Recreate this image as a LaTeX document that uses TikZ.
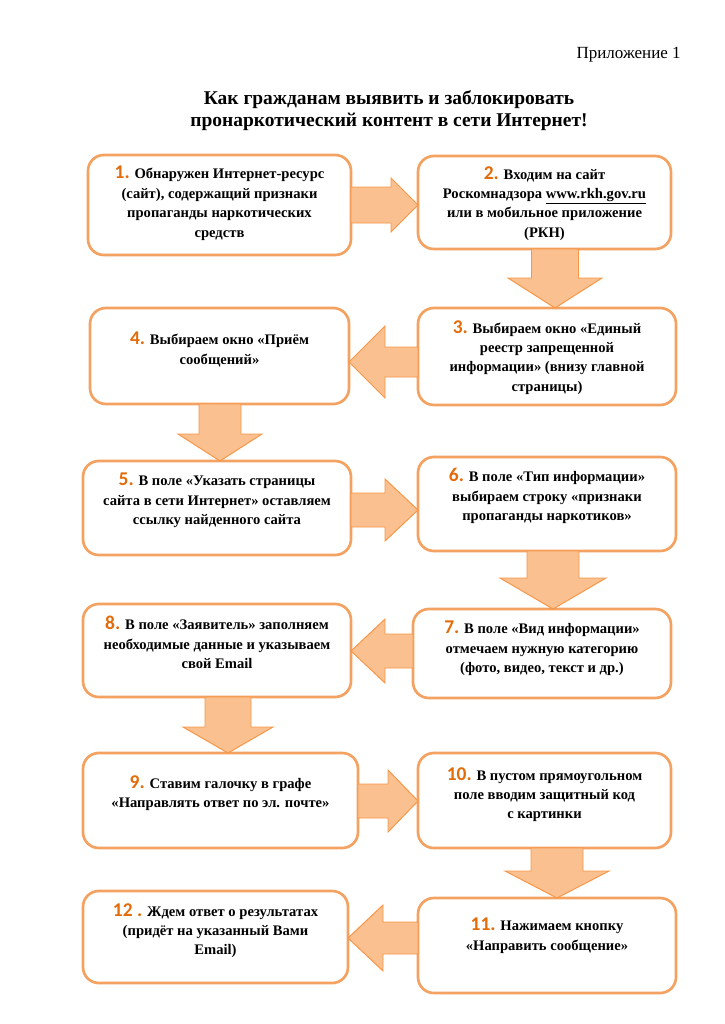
\documentclass[tikz,border=0pt]{standalone}
\usepackage{fontspec}
\setmainfont{Liberation Serif}
\newfontfamily\numfont{Carlito}
\usetikzlibrary{calc}
\definecolor{boxor}{HTML}{F4A261}
\definecolor{arrfill}{HTML}{FAC090}
\definecolor{arrline}{HTML}{F79646}
\definecolor{numor}{HTML}{E36C0A}
\def\pxu{0.8218pt}
\newcommand\nm[1]{{\numfont\fontsize{16}{16}\selectfont\color{numor}#1}}
\newcommand\bx[5]{\node[stepbox, minimum width={(#4-#2)*\pxu}, minimum height={(#5-#3)*\pxu}] (#1) at ({(#2+#4)/2},{(#3+#5)/2}) {};}
\newcommand\harr[6]{\path[blockarrow] let \p1=(#1), \p2=(#2) in
 (\x1,{-(#3-#4)*\pxu}) -- ({\x2-(#6)*\pxu},{-(#3-#4)*\pxu}) -- ({\x2-(#6)*\pxu},{-(#3-#5)*\pxu})
 -- (\x2,{-(#3)*\pxu}) -- ({\x2-(#6)*\pxu},{-(#3+#5)*\pxu}) -- ({\x2-(#6)*\pxu},{-(#3+#4)*\pxu})
 -- (\x1,{-(#3+#4)*\pxu}) -- cycle;}
\newcommand\varr[6]{\path[blockarrow] let \p1=(#1), \p2=(#2) in
 ({(#3-#4)*\pxu},\y1) -- ({(#3-#4)*\pxu},{\y2+(#6)*\pxu}) -- ({(#3-#5)*\pxu},{\y2+(#6)*\pxu})
 -- ({(#3)*\pxu},\y2) -- ({(#3+#5)*\pxu},{\y2+(#6)*\pxu}) -- ({(#3+#4)*\pxu},{\y2+(#6)*\pxu})
 -- ({(#3+#4)*\pxu},\y1) -- cycle;}
\tikzset{
 stepbox/.style={draw=boxor, line width=2.2pt, fill=white, rounded corners=13pt, inner sep=0pt, outer sep=0pt},
 txt/.style={align=center, inner sep=0pt, font=\bfseries\fontsize{12}{16}\selectfont, anchor=north},
 blockarrow/.style={fill=arrfill, draw=arrline, line width=0.8pt, line join=miter}
}
\begin{document}
\begin{tikzpicture}[x=\pxu, y=-\pxu]
\useasboundingbox (0,0) rectangle (724,1024);
\node[anchor=base east, inner sep=0pt, font=\fontsize{14}{16}\selectfont] (app) at (681,59) {Приложение 1};
\node[anchor=north, inner sep=0pt, align=center, font=\bfseries\fontsize{16}{18.3}\selectfont] (title) at (389,90) {Как гражданам выявить и заблокировать\\пронаркотический контент в сети Интернет!};
\bx{b1}{88}{155}{351}{255}
\bx{b2}{418}{156}{671}{249}
\bx{b3}{418}{308}{676}{405}
\bx{b4}{90}{308}{349}{404}
\bx{b5}{83}{461}{351}{555}
\bx{b6}{418}{457}{676}{551}
\bx{b7}{413}{609}{671}{698}
\bx{b8}{83}{604}{351}{697}
\bx{b9}{83}{753}{358}{848}
\bx{b10}{418}{753}{671}{848}
\bx{b11}{418}{898}{676}{993}
\bx{b12}{83}{891}{348}{983}
\node[txt] (t1) at ([yshift=-11*\pxu]b1.north) {\nm{1.} Обнаружен Интернет-ресурс\\(сайт), содержащий признаки\\пропаганды наркотических\\средств};
\node[txt] (t2) at ([yshift=-10*\pxu]b2.north) {\nm{2.} Входим на сайт\\Роскомнадзора \underline{www.rkh.gov.ru}\\или в мобильное приложение\\(РКН)};
\node[txt] (t3) at ([yshift=-12*\pxu]b3.north) {\nm{3.} Выбираем окно «Единый\\реестр запрещенной\\информации» (внизу главной\\страницы)};
\node[txt] (t4) at ([yshift=-24*\pxu]b4.north) {\nm{4.} Выбираем окно «Приём\\сообщений»};
\node[txt] (t5) at ([yshift=-12*\pxu]b5.north) {\nm{5.} В поле «Указать страницы\\сайта в сети Интернет» оставляем\\ссылку найденного сайта};
\node[txt] (t6) at ([yshift=-11*\pxu]b6.north) {\nm{6.} В поле «Тип информации»\\выбираем строку «признаки\\пропаганды наркотиков»};
\node[txt] (t7) at ([yshift=-12*\pxu]b7.north) {\nm{7.} В поле «Вид информации»\\отмечаем нужную категорию\\(фото, видео, текст и др.)};
\node[txt] (t8) at ([yshift=-12*\pxu]b8.north) {\nm{8.} В поле «Заявитель» заполняем\\необходимые данные и указываем\\свой Email};
\node[txt] (t9) at ([yshift=-22*\pxu]b9.north) {\nm{9.} Ставим галочку в графе\\«Направлять ответ по эл. почте»};
\node[txt] (t10) at ([yshift=-14*\pxu]b10.north) {\nm{10.} В пустом прямоугольном\\поле вводим защитный код\\с картинки};
\node[txt] (t11) at ([yshift=-20*\pxu]b11.north) {\nm{11.} Нажимаем кнопку\\«Направить сообщение»};
\node[txt] (t12) at ([yshift=-12*\pxu]b12.north) {\nm{12 .} Ждем ответ о результатах\\(придёт на указанный Вами\\Email)};
\harr{b1.east}{b2.west}{205}{18}{27}{27}
\varr{b2.south}{b3.north}{555}{23.5}{47}{30}
\harr{b3.west}{b4.east}{362}{15}{36}{-36}
\varr{b4.south}{b5.north}{220}{21}{42}{27}
\harr{b5.east}{b6.west}{510}{17}{31}{33}
\varr{b6.south}{b7.north}{553}{26}{53}{31}
\harr{b7.west}{b8.east}{651}{17}{32}{-34}
\varr{b8.south}{b9.north}{228}{23}{45}{26}
\harr{b9.east}{b10.west}{801}{17}{31}{30}
\varr{b10.south}{b11.north}{557}{26}{52}{27}
\harr{b11.west}{b12.east}{938}{16}{33}{-35}
\end{tikzpicture}
\end{document}
